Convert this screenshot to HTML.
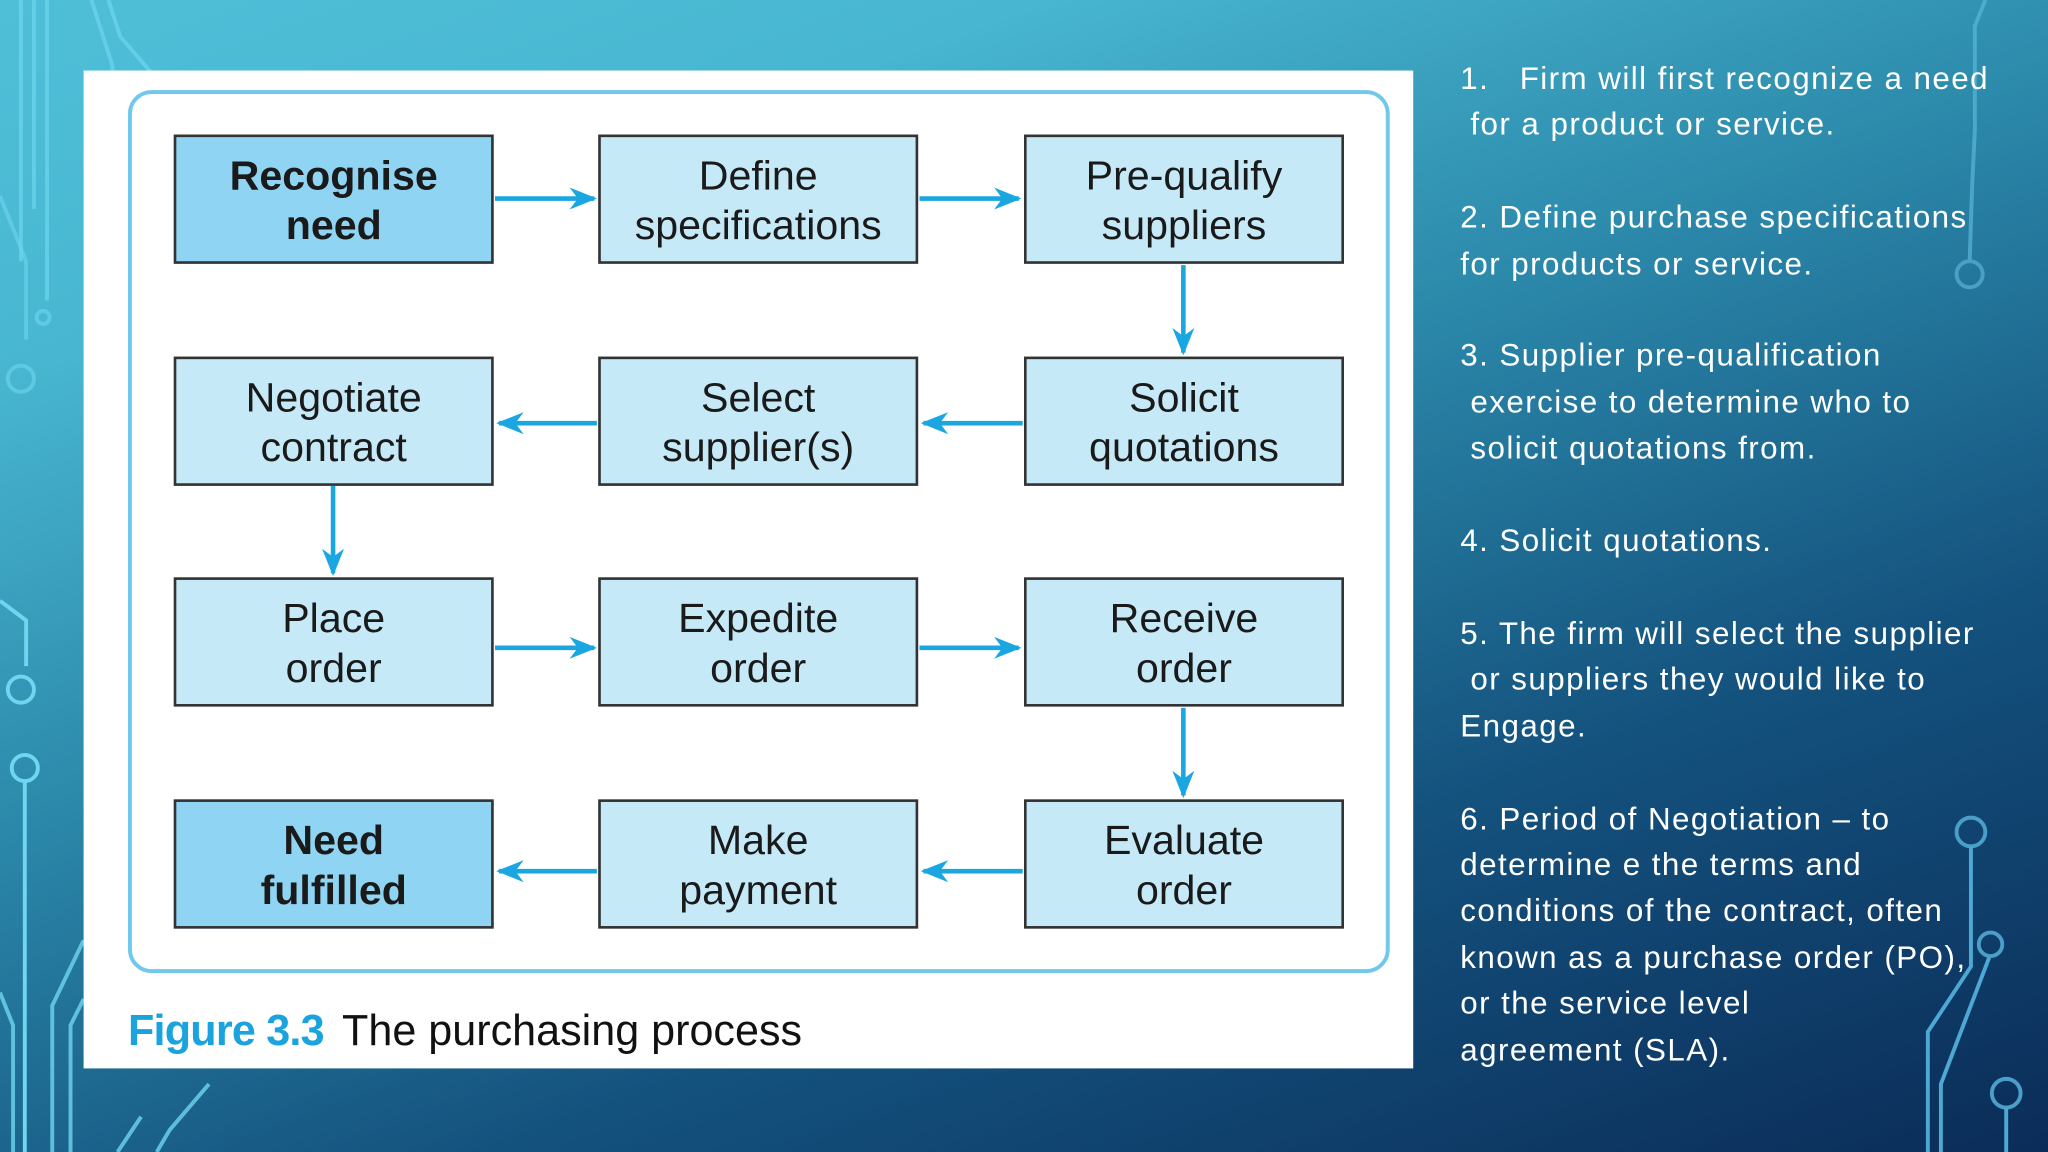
<!DOCTYPE html>
<html><head><meta charset="utf-8"><style>
html,body{margin:0;padding:0;width:2048px;height:1152px;overflow:hidden}
#w{position:absolute;left:0;top:0;width:1568px;height:882px;transform:scale(1.306122);transform-origin:0 0;
background:linear-gradient(160deg,#4fbfd8 0%,#48b6d0 20%,#2a86a8 45%,#14527e 70%,#0b2c58 100%);font-family:"Liberation Sans",sans-serif;overflow:hidden}
.panel{position:absolute;left:64px;top:54px;width:1018px;height:764px;background:#fff}
.frame{position:absolute;left:98px;top:69px;width:960px;height:670px;border:3px solid #72c8ec;border-radius:18px}
.b{position:absolute;width:241px;height:95px;border:2px solid #333;background:#c6e9f8;display:flex;align-items:center;justify-content:center;text-align:center;font-size:31.5px;line-height:38px;color:#1a1a1a}
.d{background:#8fd5f3;font-weight:bold}
.cap{position:absolute;left:98px;top:770px;font-size:33px;color:#111;white-space:nowrap}
.cap b{color:#1aa3dd;margin-right:14px;letter-spacing:-0.6px}
.t{position:absolute;left:1118px;top:43px;color:#fff;font-size:24px;line-height:35.4px;white-space:pre;letter-spacing:1.1px}
</style></head><body><div id="w">
<svg width="1568" height="882" style="position:absolute;left:0;top:0" fill="none" stroke="#6fd6ee" stroke-width="3">
<path d="M16 0V200M26 0V160M36 0V230M70 0 L86 50V70M83 0 L92 28L118 58" opacity="0.7"/>
<path d="M0 150 L20 200V260" opacity="0.6"/><circle cx="16" cy="290" r="10" opacity="0.6"/><circle cx="33" cy="243" r="5" opacity="0.6"/>
<path d="M0 460 L20 475V510"/><circle cx="16" cy="528" r="10"/><circle cx="19" cy="588" r="10"/><path d="M19 598V882"/>
<path d="M0 760 L10 785V882M40 882V770L64 720M54 882V785L64 765M90 882L108 855M120 882L130 865L160 830" opacity="0.8"/>
<path d="M1520 0L1512 20V100L1510 140L1508 200" stroke="#5ab7d8" opacity="0.7"/><circle cx="1508" cy="210" r="10" stroke="#4a9fc8"/>
<circle cx="1509" cy="637" r="11" stroke="#4a9fc8"/><path d="M1509 648V740L1476 790V882M1523 733L1486 830V882" stroke="#4ea8d4"/>
<circle cx="1524" cy="723" r="9" stroke="#4a9fc8"/><circle cx="1536" cy="837" r="11" stroke="#4a9fc8"/><path d="M1536 848V882" stroke="#4ea8d4"/>
</svg>
<div class="panel"></div>
<div class="frame"></div>
<svg width="1568" height="882" style="position:absolute;left:0;top:0" stroke="#1aa6e0" stroke-width="3.5" fill="#1aa6e0">
<defs><marker id="a" viewBox="0 0 10 10" refX="9" refY="5" markerWidth="6" markerHeight="6" orient="auto"><path d="M0 1L10 5L0 9L3 5Z" stroke="none"/></marker></defs>
<g marker-end="url(#a)">
<line x1="379" y1="152" x2="455" y2="152"/><line x1="704" y1="152" x2="780" y2="152"/>
<line x1="906" y1="203" x2="906" y2="270"/>
<line x1="783" y1="324" x2="707" y2="324"/><line x1="457" y1="324" x2="382" y2="324"/>
<line x1="255" y1="372" x2="255" y2="439"/>
<line x1="379" y1="496" x2="455" y2="496"/><line x1="704" y1="496" x2="780" y2="496"/>
<line x1="906" y1="542" x2="906" y2="609"/>
<line x1="783" y1="667" x2="707" y2="667"/><line x1="457" y1="667" x2="382" y2="667"/>
</g></svg>
<div class="b d" style="left:133px;top:103px">Recognise<br>need</div>
<div class="b" style="left:458px;top:103px">Define<br>specifications</div>
<div class="b" style="left:784px;top:103px">Pre-qualify<br>suppliers</div>
<div class="b" style="left:133px;top:273px">Negotiate<br>contract</div>
<div class="b" style="left:458px;top:273px">Select<br>supplier(s)</div>
<div class="b" style="left:784px;top:273px">Solicit<br>quotations</div>
<div class="b" style="left:133px;top:442px">Place<br>order</div>
<div class="b" style="left:458px;top:442px">Expedite<br>order</div>
<div class="b" style="left:784px;top:442px">Receive<br>order</div>
<div class="b d" style="left:133px;top:612px">Need<br>fulfilled</div>
<div class="b" style="left:458px;top:612px">Make<br>payment</div>
<div class="b" style="left:784px;top:612px">Evaluate<br>order</div>
<div class="cap"><b>Figure 3.3</b>The purchasing process</div>
<div class="t">1.   Firm will first recognize a need
 for a product or service.

2. Define purchase specifications
for products or service.

3. Supplier pre-qualification
 exercise to determine who to
 solicit quotations from.

4. Solicit quotations.

5. The firm will select the supplier
 or suppliers they would like to
Engage.

6. Period of Negotiation – to
determine e the terms and
conditions of the contract, often
known as a purchase order (PO),
or the service level
agreement (SLA).</div>
</div></body></html>
